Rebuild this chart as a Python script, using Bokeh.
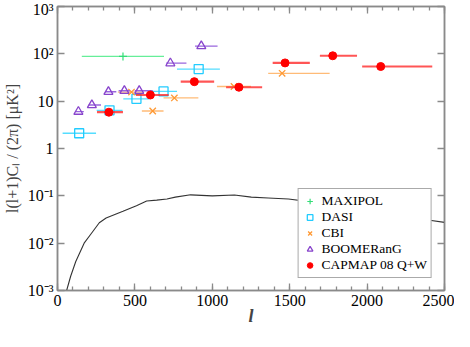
from bokeh.plotting import figure
from bokeh.models import (FixedTicker, CustomJSTickFormatter, LinearAxis, LogAxis,
                          Legend, LegendItem, ColumnDataSource)
from bokeh.embed import file_html
from bokeh.resources import INLINE

# ---------------- data ----------------
theory_l = [50, 59, 85, 118, 172, 216, 270, 314, 423, 510, 576, 641, 707, 761, 860,
            1000, 1143, 1252, 1361, 1492, 1700, 1900, 2100, 2300, 2404, 2500]
theory_v = [0.0007, 0.001, 0.002, 0.0041, 0.01, 0.0156, 0.027, 0.034, 0.047, 0.062, 0.078,
            0.081, 0.086, 0.094, 0.105, 0.100, 0.104, 0.094, 0.090, 0.0855, 0.070,
            0.055, 0.044, 0.035, 0.0306, 0.0275]

maxipol_l = [423]
maxipol_lo = [157]
maxipol_hi = [688]
maxipol_v = [88]

dasi_l = [140, 336, 510, 685, 912]
dasi_lo = [33, 253, 425, 598, 772]
dasi_hi = [249, 420, 594, 772, 1049]
dasi_v = [2.1, 6.4, 11.2, 16.1, 47.7]

cbi_l = [478, 615, 755, 1140, 1451]
cbi_lo = [390, 545, 685, 1030, 1361]
cbi_hi = [554, 685, 910, 1250, 1758]
cbi_v = [15.6, 6.2, 11.7, 20.4, 38.8]

boom_l = [135, 222, 329, 432, 528, 729, 929]
boom_lo = [113, 201, 307, 395, 499, 702, 888]
boom_hi = [170, 281, 380, 467, 615, 833, 1034]
boom_v = [6.0, 8.3, 15.8, 16.6, 16.6, 63.4, 146]

capmap_l = [332, 600, 884, 1172, 1470, 1778, 2088]
capmap_lo = [255, 506, 796, 1089, 1390, 1695, 1968]
capmap_hi = [423, 718, 1012, 1322, 1630, 1935, 2421]
capmap_v = [5.85, 13.5, 25.8, 19.7, 64.3, 91, 54]

x_ticks = [0, 500, 1000, 1500, 2000, 2500]
y_ticks = [1e-3, 1e-2, 1e-1, 1, 10, 100, 1000]
x_title = "l"
y_title = "l(l+1)C\u2097 / (2\u03c0) [\u03bcK\u00b2]"

FONT = "Liberation Serif"
AXIS_COLOR = "#8a8a8a"

p = figure(width=454, height=331, x_range=(0, 2500), y_range=(1e-3, 1e3),
           y_axis_type="log", output_backend="svg", toolbar_location=None,
           min_border_left=54, min_border_right=10, min_border_top=6, min_border_bottom=41)
p.grid.visible = False
p.outline_line_color = AXIS_COLOR
p.outline_line_width = 1.5
p.background_fill_color = "white"
p.border_fill_color = "white"

xt = FixedTicker(ticks=x_ticks, minor_ticks=list(range(0, 2501, 100)))
yt = FixedTicker(ticks=y_ticks, minor_ticks=[])

fmt = CustomJSTickFormatter(code="""
const e = Math.round(Math.log10(tick));
if (e == 0) return "1";
if (e == 1) return "10";
const sup = {"-": "\u207b", "0": "\u2070", "1": "\u00b9", "2": "\u00b2", "3": "\u00b3"};
return "10" + String(e).split("").map(c => sup[c]).join("");
""")

def style_axis(ax):
    ax.axis_line_color = AXIS_COLOR
    ax.axis_line_width = 1.5
    ax.major_tick_line_color = AXIS_COLOR
    ax.minor_tick_line_color = AXIS_COLOR
    ax.major_tick_line_width = 1.3
    ax.minor_tick_line_width = 1.3
    ax.major_tick_in = 7
    ax.major_tick_out = 0
    ax.minor_tick_in = 4
    ax.minor_tick_out = 0
    ax.major_label_text_font = FONT
    ax.major_label_text_font_size = "16px"
    ax.major_label_text_color = "black"

xa = p.xaxis[0]
xa.ticker = xt
style_axis(xa)
xa.axis_label = x_title
xa.axis_label_text_font = FONT
xa.axis_label_text_font_style = "bold italic"
xa.axis_label_text_font_size = "18px"
xa.axis_label_standoff = -3
xa.major_label_standoff = 4

ya = p.yaxis[0]
ya.ticker = yt
ya.formatter = fmt
style_axis(ya)
ya.axis_label = y_title
ya.axis_label_text_font = FONT
ya.axis_label_text_font_style = "normal"
ya.axis_label_text_font_size = "16px"
ya.axis_label_standoff = 4
ya.major_label_standoff = 4

top = LinearAxis(ticker=xt)
style_axis(top)
top.major_label_text_alpha = 0
top.major_label_standoff = 0
top.major_label_text_font_size = "1px"
p.add_layout(top, "above")
right = LogAxis(ticker=yt)
style_axis(right)
right.major_label_text_alpha = 0
right.major_label_standoff = 0
right.major_label_text_font_size = "1px"
p.add_layout(right, "right")

# theory curve
p.line(theory_l, theory_v, line_color="#333333", line_width=1.1)

series = [
    ("MAXIPOL", maxipol_l, maxipol_lo, maxipol_hi, maxipol_v,
     dict(marker="cross", size=8, line_color="#33dd77", fill_color=None, line_width=1.2),
     dict(line_color="#66ee99", line_width=1.3)),
    ("DASI", dasi_l, dasi_lo, dasi_hi, dasi_v,
     dict(marker="square", size=9, line_color="#22ccff", fill_color=None, line_width=1.3),
     dict(line_color="#55ddff", line_width=1.3)),
    ("CBI", cbi_l, cbi_lo, cbi_hi, cbi_v,
     dict(marker="x", size=9, line_color="#ff9933", fill_color=None, line_width=1.3),
     dict(line_color="#ffbb77", line_width=1.3)),
    ("BOOMERanG", boom_l, boom_lo, boom_hi, boom_v,
     dict(marker="triangle", size=9, line_color="#8844cc", fill_color=None, line_width=1.3),
     dict(line_color="#9966dd", line_width=1.3)),
    ("CAPMAP 08 Q+W", capmap_l, capmap_lo, capmap_hi, capmap_v,
     dict(marker="circle", size=8, line_color="#ff0000", fill_color="#ff0000", line_width=1),
     dict(line_color="#ff2a2a", line_alpha=0.8, line_width=2.2)),
]

items = []
for name, l, lo, hi, v, mk, ln in series:
    src = ColumnDataSource(dict(l=l, lo=lo, hi=hi, v=v))
    p.segment(x0="lo", y0="v", x1="hi", y1="v", source=src, **ln)
    r = p.scatter(x="l", y="v", source=src, **mk)
    items.append(LegendItem(label=name, renderers=[r]))

legend = Legend(items=items, location="bottom_right")
legend.label_text_font = FONT
legend.label_text_font_size = "13.5px"
legend.label_text_color = "black"
legend.label_height = 14
legend.glyph_height = 14
legend.glyph_width = 14
legend.label_standoff = 5
legend.spacing = 0
legend.padding = 4
legend.margin = 12
legend.border_line_color = "#555555"
legend.border_line_width = 1
legend.background_fill_color = "white"
legend.background_fill_alpha = 1.0
p.add_layout(legend)

open("out.html", "w").write(file_html(p, INLINE))
